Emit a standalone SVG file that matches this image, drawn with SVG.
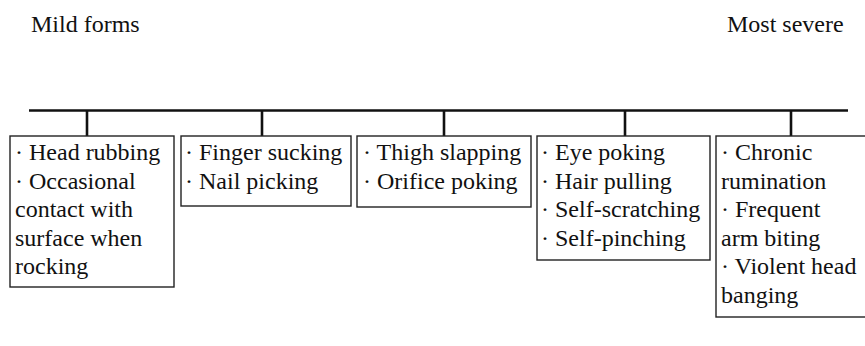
<svg xmlns="http://www.w3.org/2000/svg" width="865" height="346" viewBox="0 0 865 346">
<style>
.box{fill:#fff;stroke:#222;stroke-width:1.4}
.ln{stroke:#111;stroke-width:2.6;fill:none}
</style>
<rect width="865" height="346" fill="#fff"/>
<text x="31" y="32" font-family="Liberation Serif, Times New Roman, serif" font-size="24" fill="#111">Mild forms</text>
<text x="727" y="32" font-family="Liberation Serif, Times New Roman, serif" font-size="24" fill="#111">Most severe</text>
<g id="connectors">
<line class="ln" x1="29" y1="110.5" x2="848" y2="110.5"/>
<line class="ln" x1="87" y1="110" x2="87" y2="136"/>
<line class="ln" x1="262" y1="110" x2="262" y2="136"/>
<line class="ln" x1="444" y1="110" x2="444" y2="136"/>
<line class="ln" x1="625" y1="110" x2="625" y2="136"/>
<line class="ln" x1="791" y1="110" x2="791" y2="136"/>
</g>
<g id="n1">
<rect class="box" x="10" y="136" width="164" height="151"/>
<text x="15" y="160" font-family="Liberation Serif, Times New Roman, serif" font-size="24" fill="#111">· Head rubbing</text>
<text x="15" y="188.5" font-family="Liberation Serif, Times New Roman, serif" font-size="24" fill="#111">· Occasional</text>
<text x="15" y="217" font-family="Liberation Serif, Times New Roman, serif" font-size="24" fill="#111">contact with</text>
<text x="15" y="245.5" font-family="Liberation Serif, Times New Roman, serif" font-size="24" fill="#111">surface when</text>
<text x="15" y="274" font-family="Liberation Serif, Times New Roman, serif" font-size="24" fill="#111">rocking</text>
</g>
<g id="n2">
<rect class="box" x="181" y="136" width="170" height="70"/>
<text x="185" y="160" font-family="Liberation Serif, Times New Roman, serif" font-size="24" fill="#111">· Finger sucking</text>
<text x="185" y="188.5" font-family="Liberation Serif, Times New Roman, serif" font-size="24" fill="#111">· Nail picking</text>
</g>
<g id="n3">
<rect class="box" x="357" y="136" width="174" height="71"/>
<text x="363" y="160" font-family="Liberation Serif, Times New Roman, serif" font-size="24" fill="#111">· Thigh slapping</text>
<text x="363" y="188.5" font-family="Liberation Serif, Times New Roman, serif" font-size="24" fill="#111">· Orifice poking</text>
</g>
<g id="n4">
<rect class="box" x="537" y="136" width="173" height="124"/>
<text x="541" y="160" font-family="Liberation Serif, Times New Roman, serif" font-size="24" fill="#111">· Eye poking</text>
<text x="541" y="188.5" font-family="Liberation Serif, Times New Roman, serif" font-size="24" fill="#111">· Hair pulling</text>
<text x="541" y="217" font-family="Liberation Serif, Times New Roman, serif" font-size="24" fill="#111">· Self-scratching</text>
<text x="541" y="245.5" font-family="Liberation Serif, Times New Roman, serif" font-size="24" fill="#111">· Self-pinching</text>
</g>
<g id="n5">
<rect class="box" x="716" y="136" width="152" height="181"/>
<text x="721" y="160" font-family="Liberation Serif, Times New Roman, serif" font-size="24" fill="#111">· Chronic</text>
<text x="721" y="188.5" font-family="Liberation Serif, Times New Roman, serif" font-size="24" fill="#111">rumination</text>
<text x="721" y="217" font-family="Liberation Serif, Times New Roman, serif" font-size="24" fill="#111">· Frequent</text>
<text x="721" y="245.5" font-family="Liberation Serif, Times New Roman, serif" font-size="24" fill="#111">arm biting</text>
<text x="721" y="274" font-family="Liberation Serif, Times New Roman, serif" font-size="24" fill="#111">· Violent head</text>
<text x="721" y="302.5" font-family="Liberation Serif, Times New Roman, serif" font-size="24" fill="#111">banging</text>
</g>
</svg>
